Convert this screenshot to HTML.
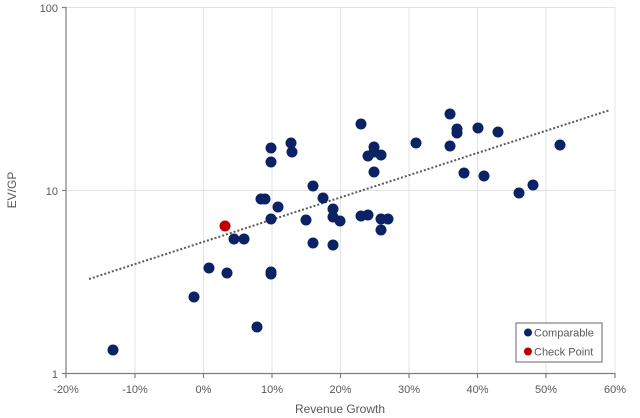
<!DOCTYPE html>
<html><head><meta charset="utf-8"><style>
body{margin:0;background:#fff;}
svg{display:block;font-family:"Liberation Sans",sans-serif;}
</style></head><body>
<svg width="640" height="418" viewBox="0 0 640 418">
<g stroke="#e3e3e3" stroke-width="1">
<line x1="135" y1="7.5" x2="135" y2="373.5"/><line x1="203.5" y1="7.5" x2="203.5" y2="373.5"/>
<line x1="272" y1="7.5" x2="272" y2="373.5"/><line x1="340.5" y1="7.5" x2="340.5" y2="373.5"/>
<line x1="409" y1="7.5" x2="409" y2="373.5"/><line x1="477.5" y1="7.5" x2="477.5" y2="373.5"/>
<line x1="546" y1="7.5" x2="546" y2="373.5"/><line x1="615" y1="7.5" x2="615" y2="373.5"/>
<line x1="66" y1="7.5" x2="615" y2="7.5"/><line x1="66" y1="190.5" x2="615" y2="190.5"/>
</g>
<g stroke="#7f7f7f" stroke-width="1.2">
<line x1="66" y1="7" x2="66" y2="374"/><line x1="66" y1="373.5" x2="615" y2="373.5"/>
<line x1="62" y1="7.5" x2="66" y2="7.5"/><line x1="62" y1="190.5" x2="66" y2="190.5"/><line x1="62" y1="373.5" x2="66" y2="373.5"/>
<line x1="66" y1="373" x2="66" y2="378"/><line x1="135" y1="373" x2="135" y2="378"/><line x1="203.5" y1="373" x2="203.5" y2="378"/><line x1="272" y1="373" x2="272" y2="378"/><line x1="340.5" y1="373" x2="340.5" y2="378"/><line x1="409" y1="373" x2="409" y2="378"/><line x1="477.5" y1="373" x2="477.5" y2="378"/><line x1="546" y1="373" x2="546" y2="378"/><line x1="615" y1="373" x2="615" y2="378"/>
</g>
<g fill="#595959" font-size="11">
<g text-anchor="end"><text x="58" y="12">100</text><text x="58" y="195">10</text><text x="58" y="378">1</text></g>
<g text-anchor="middle"><text x="66" y="393">-20%</text><text x="135" y="393">-10%</text><text x="203.5" y="393">0%</text><text x="272" y="393">10%</text><text x="340.5" y="393">20%</text><text x="409" y="393">30%</text><text x="477.5" y="393">40%</text><text x="546" y="393">50%</text><text x="615" y="393">60%</text></g>
<text x="340" y="413" text-anchor="middle" font-size="12">Revenue Growth</text>
<text transform="translate(16,190) rotate(-90)" text-anchor="middle" font-size="12">EV/GP</text>
</g>
<line x1="89" y1="279" x2="610" y2="110" stroke="#595959" stroke-width="2" stroke-dasharray="2,2"/>
<g fill="#0b2265">
<circle cx="113" cy="350" r="5.5"/><circle cx="194" cy="297" r="5.5"/><circle cx="209" cy="268" r="5.5"/><circle cx="227" cy="273" r="5.5"/>
<circle cx="234" cy="239" r="5.5"/><circle cx="244" cy="239" r="5.5"/><circle cx="257" cy="327" r="5.5"/><circle cx="261" cy="199" r="5.5"/><circle cx="265" cy="199" r="5.5"/>
<circle cx="271" cy="148" r="5.5"/><circle cx="271" cy="162" r="5.5"/><circle cx="271" cy="219" r="5.5"/><circle cx="271" cy="272" r="5.5"/><circle cx="271" cy="274" r="5.5"/>
<circle cx="278" cy="207" r="5.5"/><circle cx="291" cy="143" r="5.5"/><circle cx="292" cy="152" r="5.5"/><circle cx="306" cy="220" r="5.5"/><circle cx="313" cy="186" r="5.5"/><circle cx="313" cy="243" r="5.5"/>
<circle cx="323" cy="198" r="5.5"/><circle cx="333" cy="209" r="5.5"/><circle cx="333" cy="217" r="5.5"/><circle cx="340" cy="221" r="5.5"/><circle cx="333" cy="245" r="5.5"/>
<circle cx="361" cy="124" r="5.5"/><circle cx="361" cy="216" r="5.5"/><circle cx="368" cy="215" r="5.5"/><circle cx="368" cy="156" r="5.5"/><circle cx="374" cy="147" r="5.5"/><circle cx="374" cy="152" r="5.5"/>
<circle cx="381" cy="155" r="5.5"/><circle cx="374" cy="172" r="5.5"/><circle cx="381" cy="219" r="5.5"/><circle cx="388" cy="219" r="5.5"/><circle cx="381" cy="230" r="5.5"/>
<circle cx="416" cy="143" r="5.5"/><circle cx="450" cy="114" r="5.5"/><circle cx="450" cy="146" r="5.5"/><circle cx="457" cy="129" r="5.5"/><circle cx="457" cy="133" r="5.5"/>
<circle cx="478" cy="128" r="5.5"/><circle cx="498" cy="132" r="5.5"/><circle cx="464" cy="173" r="5.5"/><circle cx="484" cy="176" r="5.5"/><circle cx="519" cy="193" r="5.5"/><circle cx="533" cy="185" r="5.5"/><circle cx="560" cy="145" r="5.5"/>
</g>
<circle cx="225" cy="226" r="5.5" fill="#c00000"/>
<rect x="516" y="323" width="86" height="39" fill="#fff" stroke="#7f7f7f" stroke-width="1.2"/>
<circle cx="528" cy="332.5" r="4" fill="#0b2265"/><circle cx="528" cy="351.5" r="4" fill="#c00000"/>
<g fill="#595959" font-size="11"><text x="534" y="336.5">Comparable</text><text x="534" y="355.5">Check Point</text></g>
</svg>
</body></html>
